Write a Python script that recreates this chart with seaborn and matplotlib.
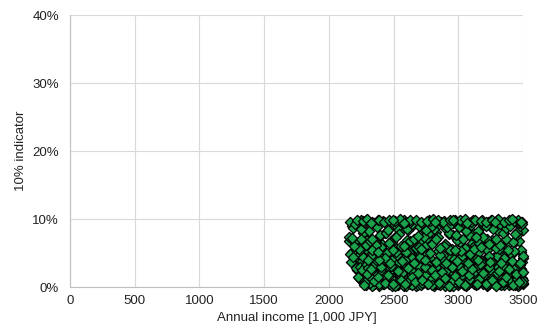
import matplotlib
matplotlib.use('Agg')
import matplotlib.pyplot as plt
import seaborn as sns
import pandas as pd
from matplotlib.ticker import PercentFormatter

# upper band of points (7-10%)
income_hi = [2165, 2190, 2230, 2285, 2310, 2350, 2395, 2420, 2470, 2505, 2540, 2580, 2615, 2660, 2700, 2735, 2770, 2810,
             2850, 2890, 2925, 2960, 3005, 3040, 3080, 3115, 3150, 3190, 3230, 3270, 3300, 3345, 3380, 3420, 3455, 3490,
             2175, 2245, 2330, 2440, 2520, 2600, 2690, 2750, 2830, 2910, 2985, 3060, 3135, 3210, 3290, 3365, 3440, 3480,
             2205, 2275, 2375, 2455, 2560, 2640, 2720, 2795, 2870, 2945, 3020, 3095, 3170, 3250, 3320, 3400, 3470,
             2380, 2490, 2630, 2780, 2975, 3185, 3355, 3495, 2250]
ind_hi = [9.6, 8.7, 9.1, 9.8, 8.2, 9.4, 7.6, 9.7, 8.9, 9.3, 7.8, 9.9, 8.4, 9.5, 9.0, 7.4, 9.8, 8.6,
          9.2, 9.7, 8.0, 9.4, 8.8, 9.6, 7.7, 9.9, 8.3, 9.1, 9.5, 8.5, 9.8, 7.9, 9.3, 9.7, 8.1, 9.6,
          7.2, 8.5, 7.1, 8.0, 7.3, 8.6, 7.5, 8.4, 7.0, 8.8, 7.6, 8.2, 7.3, 8.9, 7.1, 8.7, 7.8, 9.0,
          9.2, 9.5, 8.8, 8.4, 9.6, 9.2, 9.4, 9.0, 9.6, 9.3, 9.7, 9.1, 9.5, 9.8, 9.2, 9.0, 9.4,
          9.9, 9.6, 9.5, 9.7, 9.9, 9.8, 9.6, 9.3, 9.9]

# points packed against the 10% ceiling
income_top = [2215, 2262, 2298, 2336, 2388, 2427, 2463, 2512, 2548, 2592, 2628, 2672, 2712, 2758, 2803, 2842, 2884,
              2932, 2968, 3012, 3052, 3098, 3128, 3176, 3216, 3262, 3308, 3352, 3392, 3432, 3462, 3487,
              2322, 2578, 2818, 3068, 3282, 2498, 2962, 3412]
ind_top = [9.9, 9.7, 10.0, 9.5, 9.8, 9.6, 9.9, 9.7, 10.0, 9.5, 9.8, 9.9, 9.6, 9.7, 10.0, 9.8, 9.5,
           9.9, 9.7, 9.8, 10.0, 9.6, 9.9, 9.7, 9.5, 9.8, 10.0, 9.6, 9.9, 9.7, 9.8, 9.5,
           9.4, 9.4, 9.5, 9.4, 9.5, 9.8, 9.9, 10.0]

# 5-9% filler
income_up = [2158, 2232, 2298, 2364, 2430, 2496, 2562, 2628, 2694, 2760, 2826, 2892, 2958, 3024, 3090, 3156, 3222, 3288, 3354, 3420,
             2195, 2265, 2331, 2397, 2463, 2529, 2595, 2661, 2727, 2793, 2859, 2925, 2991, 3057, 3123, 3189, 3255, 3321, 3387, 3453,
             2182, 2248, 2314, 2380, 2446, 2512, 2578, 2644, 2710, 2776, 2842, 2908, 2974, 3040, 3106, 3172, 3238, 3304, 3370, 3497]
ind_up = [7.4, 5.6, 8.3, 6.2, 7.9, 5.4, 8.6, 6.8, 5.9, 7.2, 8.1, 6.0, 7.7, 5.3, 8.4, 6.5, 7.0, 5.7, 8.0, 6.6,
          6.1, 8.0, 5.5, 7.5, 6.4, 8.7, 5.2, 7.1, 8.5, 6.3, 5.8, 7.8, 6.9, 8.3, 5.6, 7.4, 8.8, 6.2, 5.4, 7.6,
          8.9, 7.0, 6.7, 5.1, 8.2, 7.3, 6.1, 8.9, 5.6, 8.0, 7.3, 8.6, 5.5, 7.0, 7.6, 5.9, 6.3, 8.3, 7.1, 8.4]

# middle band (3.5-7%)
income_mid = [2155, 2180, 2215, 2260, 2295, 2340, 2365, 2410, 2450, 2485, 2530, 2570, 2605, 2645, 2680, 2715, 2760, 2800,
              2840, 2875, 2915, 2950, 2995, 3030, 3070, 3105, 3145, 3180, 3220, 3260, 3295, 3335, 3370, 3410, 3445, 3485,
              2160, 2200, 2240, 2290, 2325, 2360, 2400, 2435, 2480, 2515, 2555, 2590, 2625, 2670, 2705, 2745, 2785, 2820,
              2860, 2900, 2935, 2970, 3010, 3050, 3090, 3125, 3160, 3200, 3240, 3280, 3315, 3350, 3390, 3430, 3465, 3498,
              2170, 2225, 2305, 2390, 2475, 2565, 2655, 2740, 2825, 2905, 2990, 3075, 3155, 3245, 3330, 3415, 3475, 2185]
ind_mid = [6.8, 5.2, 6.1, 4.4, 6.9, 5.7, 4.0, 6.3, 5.0, 6.6, 4.7, 5.9, 6.9, 4.2, 5.5, 6.4, 4.8, 6.7,
           5.3, 4.1, 6.0, 5.6, 6.8, 4.5, 5.1, 6.5, 4.3, 6.2, 5.4, 6.9, 4.6, 5.8, 6.3, 4.9, 6.7, 5.5,
           4.9, 6.4, 5.5, 6.2, 4.6, 6.6, 5.9, 4.3, 6.8, 5.2, 6.1, 4.0, 6.5, 5.7, 4.4, 6.0, 5.0, 6.9,
           4.7, 6.3, 5.4, 4.1, 6.6, 5.8, 4.8, 6.2, 5.1, 6.7, 4.5, 6.0, 5.6, 4.2, 6.4, 5.3, 6.8, 4.6,
           3.7, 5.8, 3.9, 4.0, 3.6, 3.8, 3.5, 3.9, 3.7, 3.6, 3.8, 3.5, 3.9, 3.7, 3.6, 3.8, 3.5, 4.4]

# lower band (0-3.5%), very dense
income_lo = [2240, 2265, 2290, 2318, 2342, 2371, 2396, 2422, 2448, 2477, 2503, 2528, 2551, 2579, 2604, 2633, 2657,
             2682, 2710, 2734, 2763, 2788, 2812, 2841, 2866, 2893, 2918, 2944, 2972, 2997, 3023, 3048, 3076, 3101,
             3128, 3153, 3179, 3206, 3231, 3257, 3284, 3309, 3336, 3361, 3388, 3413, 3439, 3464, 3488, 3499,
             2228, 2255, 2279, 2305, 2333, 2357, 2384, 2409, 2437, 2461, 2490, 2515, 2542, 2566, 2593, 2618, 2645,
             2669, 2696, 2722, 2748, 2775, 2799, 2826, 2853, 2879, 2905, 2931, 2958, 2984, 3010, 3036, 3062, 3088,
             3115, 3141, 3166, 3193, 3218, 3245, 3270, 3297, 3323, 3349, 3375, 3401, 3427, 3452, 3476, 3494,
             2270, 2298, 2325, 2350, 2378, 2404, 2430, 2455, 2483, 2510, 2536, 2561, 2588, 2612, 2639, 2664, 2691,
             2716, 2742, 2769, 2794, 2820, 2847, 2872, 2899, 2925, 2951, 2978, 3004, 3029, 3055, 3082, 3108, 3134,
             3160, 3187, 3212, 3238, 3264, 3290, 3317, 3342, 3369, 3395, 3420, 3446, 3471, 3497, 2497, 3144]
ind_lo = [2.9, 1.1, 3.3, 0.6, 2.2, 1.7, 3.1, 0.4, 2.6, 1.3, 0.9, 3.4, 1.9, 2.4, 0.7, 3.0, 1.5,
          2.8, 0.3, 2.0, 3.2, 1.2, 2.7, 0.5, 1.8, 3.4, 1.0, 2.3, 0.8, 2.9, 1.6, 3.1, 0.4, 2.5,
          1.4, 3.3, 0.9, 2.1, 1.7, 2.8, 0.6, 3.0, 1.3, 2.4, 0.8, 3.2, 1.9, 0.5, 2.6, 1.1,
          1.4, 2.5, 0.8, 2.8, 1.2, 3.4, 0.5, 2.2, 1.6, 3.0, 0.2, 2.7, 1.1, 2.0, 3.3, 0.9, 2.4,
          1.3, 3.1, 0.6, 1.9, 2.6, 0.3, 2.9, 1.5, 0.7, 2.3, 3.2, 1.0, 1.8, 3.0, 0.4, 2.6, 1.2,
          2.1, 0.8, 3.4, 1.6, 0.3, 2.5, 1.4, 2.0, 0.6, 3.1, 1.7, 0.9, 2.7, 1.2, 3.3, 0.7,
          0.3, 1.9, 2.6, 0.9, 1.4, 2.9, 0.6, 1.8, 3.1, 0.2, 2.3, 1.0, 0.5, 2.8, 1.5, 0.8, 2.0,
          1.1, 3.0, 0.4, 2.5, 1.7, 0.6, 2.2, 1.3, 0.2, 2.9, 1.6, 0.7, 2.4, 0.3, 1.8, 2.7, 0.5,
          1.2, 2.1, 0.4, 2.9, 1.0, 0.2, 2.3, 0.7, 1.5, 2.6, 0.3, 1.9, 0.8, 2.2, 0.4, 0.5]

# extra points close to 0%
income_floor = [2262, 2287, 2311, 2338, 2364, 2389, 2415, 2441, 2468, 2494, 2521, 2546, 2573, 2598, 2624, 2651, 2676,
                2703, 2729, 2755, 2781, 2806, 2833, 2859, 2886, 2911, 2938, 2964, 2990, 3016, 3042, 3069, 3094,
                3121, 3147, 3173, 3199, 3225, 3251, 3277, 3303, 3329, 3355, 3382, 3407, 3433, 3458, 3483,
                2282, 2345, 2418, 2474, 2553, 2611, 2687, 2752, 2818, 2891, 2956, 3027, 3097, 3168, 3235, 3302,
                3371, 3436, 3491, 2248, 2333, 2426, 2539, 2642, 2738, 2846, 2949, 3058, 3169, 3274, 3379, 3468]
ind_floor = [0.8, 0.3, 1.5, 0.6, 1.1, 0.2, 1.7, 0.9, 0.4, 1.3, 0.7, 1.6, 0.3, 1.0, 0.5, 1.4, 0.2,
             1.2, 0.8, 0.4, 1.5, 0.6, 1.1, 0.3, 1.7, 0.9, 0.2, 1.3, 0.5, 1.0, 0.3, 1.6, 0.7,
             1.2, 0.4, 0.9, 1.5, 0.2, 1.1, 0.6, 1.4, 0.3, 0.8, 1.7, 0.5, 1.0, 0.2, 1.3,
             1.0, 0.5, 1.2, 0.4, 1.6, 0.8, 0.3, 1.4, 0.6, 1.1, 0.2, 1.5, 0.7, 1.2, 0.4, 1.8,
             0.9, 0.3, 1.3, 1.2, 0.2, 0.6, 1.0, 0.3, 1.7, 0.5, 0.9, 0.2, 1.4, 0.4, 1.1, 0.6]

# filler points in the 0-6% zone
income_dense = [2236, 2302, 2368, 2434, 2500, 2566, 2632, 2698, 2764, 2830, 2896, 2962, 3028, 3094, 3160, 3226, 3292, 3358, 3424, 3490,
                2253, 2319, 2385, 2451, 2517, 2583, 2649, 2715, 2781, 2847, 2913, 2979, 3045, 3111, 3177, 3243, 3309, 3375, 3441, 3496,
                2188, 2271, 2337, 2403, 2469, 2535, 2601, 2667, 2733, 2799, 2865, 2931, 2997, 3063, 3129, 3195, 3261, 3327, 3393, 3459,
                2210, 2288, 2354, 2420, 2486, 2552, 2618, 2684, 2750, 2816, 2882, 2948, 3014, 3080, 3146, 3212, 3278, 3344, 3410, 3476,
                2278, 2327, 2393, 2459, 2525, 2591, 2657, 2723, 2789, 2855, 2921, 2987, 3053, 3119, 3185, 3251, 3317, 3383, 3449, 3482,
                2224, 2246, 2361, 2427, 2493, 2559, 2625, 2691, 2757, 2823, 2889, 2955, 3021, 3087, 3153, 3219, 3285, 3351, 3417, 3500]
ind_dense = [1.3, 4.1, 2.5, 5.2, 0.9, 3.6, 1.8, 4.8, 0.6, 2.9, 5.5, 1.4, 3.9, 0.8, 2.2, 4.5, 1.1, 3.3, 5.0, 2.0,
             3.8, 0.7, 4.6, 2.1, 5.8, 1.2, 3.0, 0.5, 4.3, 1.9, 0.9, 3.5, 5.3, 2.6, 4.0, 0.6, 5.6, 1.6, 2.8, 4.2,
             5.1, 2.3, 0.4, 3.4, 1.6, 4.9, 2.7, 0.9, 5.4, 3.2, 1.5, 4.4, 0.3, 2.4, 5.9, 1.3, 3.7, 0.8, 4.6, 1.0,
             2.8, 5.6, 1.7, 0.5, 4.0, 2.3, 5.1, 1.4, 3.3, 0.4, 4.7, 2.1, 1.2, 5.7, 0.7, 3.1, 2.0, 4.9, 1.5, 3.6,
             0.6, 2.0, 3.1, 1.0, 0.3, 5.3, 0.8, 2.5, 1.2, 4.2, 0.6, 1.7, 2.9, 0.4, 3.5, 1.9, 0.5, 2.7, 0.9, 5.2,
             4.9, 1.0, 1.4, 2.7, 1.9, 0.6, 3.8, 1.1, 2.0, 0.7, 2.6, 0.3, 4.6, 1.5, 0.4, 2.2, 1.0, 0.3, 3.0, 0.6]

# more low points (0-4.5%)
income_deep = [2269, 2335, 2401, 2467, 2533, 2599, 2665, 2731, 2797, 2863, 2929, 2995, 3061, 3127, 3193, 3259, 3325, 3391, 3457, 3493,
               2286, 2352, 2418, 2484, 2550, 2616, 2682, 2748, 2814, 2880, 2946, 3012, 3078, 3144, 3210, 3276, 3342, 3408, 3474, 3499,
               2232, 2315, 2381, 2447, 2513, 2579, 2645, 2711, 2777, 2843, 2909, 2975, 3041, 3107, 3173, 3239, 3305, 3371, 3437, 3488,
               2258, 2296, 2372, 2438, 2504, 2570, 2636, 2702, 2768, 2834, 2900, 2966, 3032, 3098, 3164, 3230, 3296, 3362, 3428, 3470,
               2244, 2307, 2344, 2410, 2476, 2542, 2608, 2674, 2740, 2806, 2872, 2938, 3004, 3070, 3136, 3202, 3268, 3334, 3400, 3466,
               2219, 2281, 2323, 2397, 2463, 2529, 2595, 2661, 2727, 2793, 2859, 2925, 2991, 3057, 3123, 3189, 3255, 3321, 3387, 3453]
ind_deep = [0.5, 2.6, 1.2, 3.9, 0.3, 1.9, 4.3, 0.8, 2.9, 1.5, 0.4, 3.5, 1.7, 4.1, 0.6, 2.4, 1.1, 0.3, 2.0, 3.7,
            2.2, 0.4, 3.2, 1.4, 2.6, 0.7, 1.6, 3.4, 0.2, 2.1, 3.9, 0.9, 0.5, 2.3, 1.3, 4.4, 0.8, 2.5, 1.2, 0.4,
            3.4, 1.5, 0.6, 2.3, 4.4, 0.2, 1.4, 2.8, 1.0, 0.5, 3.0, 1.9, 4.0, 0.7, 2.0, 0.4, 3.1, 1.8, 0.5, 2.7,
            1.7, 3.0, 2.0, 0.8, 1.1, 3.1, 0.5, 2.2, 3.8, 1.3, 0.2, 2.6, 1.0, 3.3, 1.8, 0.6, 4.2, 1.2, 2.4, 0.3,
            4.0, 0.9, 0.3, 1.8, 2.9, 1.0, 2.4, 0.4, 1.6, 3.6, 1.1, 0.6, 2.1, 1.4, 0.3, 2.8, 1.5, 0.7, 3.9, 1.6,
            2.5, 0.7, 1.9, 0.5, 3.7, 1.3, 0.2, 3.0, 0.6, 2.3, 1.8, 4.1, 0.8, 2.7, 1.2, 0.5, 3.4, 2.2, 1.0, 0.4]

df = pd.DataFrame({
    'income': income_deep + income_dense + income_floor + income_lo + income_mid + income_up + income_hi + income_top,
    'indicator': ind_deep + ind_dense + ind_floor + ind_lo + ind_mid + ind_up + ind_hi + ind_top,
})

sns.set_style('white')
plt.rcParams['font.family'] = ['Liberation Sans', 'DejaVu Sans']

fig = plt.figure(figsize=(5.4, 3.36), dpi=100)
ax = fig.add_axes([0.1296, 0.1458, 0.839, 0.8095])

sns.scatterplot(data=df, x='income', y='indicator', marker='D', s=27,
                color='#1aa34a', edgecolor='black', linewidth=0.9, ax=ax, zorder=3, clip_on=False)

ax.set_xlim(0, 3500)
ax.set_ylim(0, 40)
ax.set_xticks(range(0, 3501, 500))
ax.set_yticks(range(0, 41, 10))
ax.yaxis.set_major_formatter(PercentFormatter(decimals=0))
ax.grid(True, color='#d9d9d9', linewidth=0.8)
ax.set_axisbelow(True)
for s in ['top', 'right']:
    ax.spines[s].set_visible(False)
for s in ['left', 'bottom']:
    ax.spines[s].set_color('#bfbfbf')
    ax.spines[s].set_linewidth(0.8)
ax.tick_params(length=0, labelsize=9.5, colors='#222222')
ax.tick_params(axis='x', pad=6)
ax.tick_params(axis='y', pad=8)
ax.set_xlabel('Annual income [1,000 JPY]', fontsize=9.5, color='#222222', labelpad=3)
ax.set_ylabel('10% indicator', fontsize=9.5, color='#222222', labelpad=4)

fig.savefig('out.png', dpi=100)
